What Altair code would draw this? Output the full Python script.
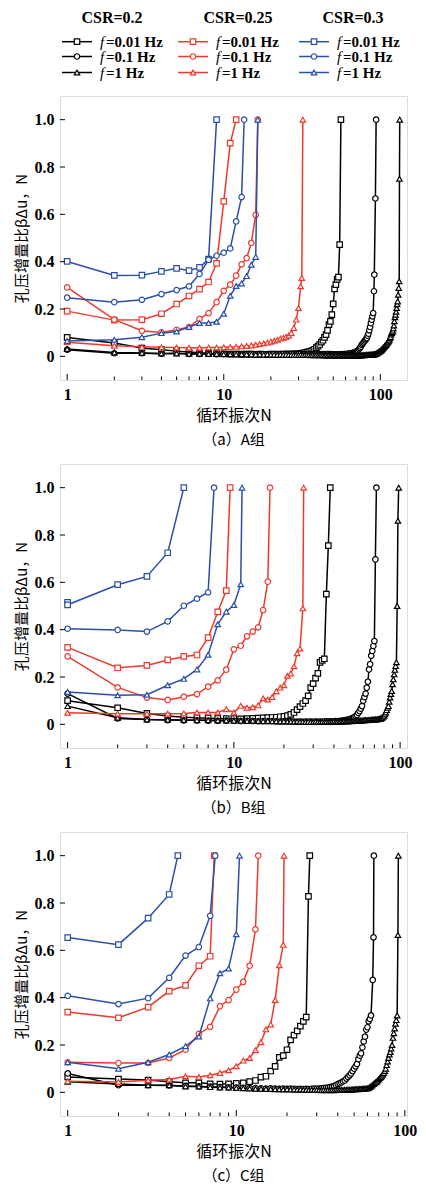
import altair as alt
import pandas as pd

# ---------------- categories / styles ----------------
CSR = ["0.2", "0.25", "0.3"]
CSR_LABELS = ["CSR=0.2", "CSR=0.25", "CSR=0.3"]
FREQ = ["0.01", "0.1", "1"]
FREQ_LABELS = ["=0.01 Hz", "=0.1 Hz", "=1 Hz"]
COLORS = ["#000000", "#ee3a2e", "#2b4fa8"]
SHAPES = ["square", "circle", "triangle-up"]
CAPTIONS = ["（a）A组", "（b）B组", "（c）C组"]
X_MAX = [148, 110, 103]
X_MAJOR = [1, 10, 100]
X_MINOR = [2, 3, 4, 5, 6, 7, 8, 9, 20, 30, 40, 50, 60, 70, 80, 90]
Y_TICKS = [0, 0.2, 0.4, 0.6, 0.8, 1.0]

# ---------------- panel A ----------------
A_02_001_N = list(range(1, 57))
A_02_001_B = [0.080, 0.056, 0.035, 0.028, 0.022, 0.018, 0.015, 0.013, 0.012, 0.011,
              0.010, 0.010, 0.009, 0.010, 0.009, 0.008, 0.009, 0.008, 0.008, 0.009,
              0.008, 0.009, 0.008, 0.009, 0.010, 0.009, 0.010, 0.011, 0.010, 0.012,
              0.013, 0.014, 0.016, 0.018, 0.020, 0.022, 0.025, 0.030, 0.037, 0.043,
              0.050, 0.060, 0.068, 0.080, 0.092, 0.110, 0.134, 0.148, 0.176, 0.222,
              0.285, 0.303, 0.325, 0.335, 0.472, 1.000]
A_02_01_N = list(range(1, 92)) + [91.5, 93, 94]
A_02_01_B = [0.028, 0.013, 0.013, 0.011, 0.013, 0.010, 0.010, 0.011, 0.009, 0.010,
             0.009, 0.010, 0.008, 0.009, 0.010, 0.008, 0.009, 0.010, 0.008, 0.009,
             0.010, 0.008, 0.009, 0.010, 0.009, 0.008, 0.010, 0.009, 0.008, 0.009,
             0.010, 0.008, 0.009, 0.008, 0.010, 0.009, 0.008, 0.009, 0.010, 0.008,
             0.009, 0.008, 0.010, 0.009, 0.008, 0.009, 0.010, 0.008, 0.009, 0.008,
             0.007, 0.008, 0.007, 0.008, 0.007, 0.008, 0.009, 0.008, 0.009, 0.010,
             0.010, 0.011, 0.012, 0.012, 0.013, 0.014, 0.015, 0.016, 0.018, 0.020,
             0.021, 0.025, 0.030, 0.035, 0.041, 0.048, 0.053, 0.058, 0.063, 0.068,
             0.073, 0.077, 0.087, 0.096, 0.110, 0.124, 0.140, 0.155, 0.169, 0.183,
             0.275, 0.345, 0.667, 1.000]
A_02_1_N = list(range(1, 133)) + [132.5, 133]
A_02_1_B = [0.031, 0.016, 0.014, 0.012, 0.012, 0.011, 0.011, 0.010, 0.010, 0.009,
            0.009, 0.008, 0.009, 0.008, 0.008, 0.007, 0.008, 0.007, 0.008, 0.007,
            0.007, 0.006, 0.007, 0.006, 0.007, 0.006, 0.006, 0.005, 0.006, 0.005,
            0.006, 0.005, 0.005, 0.006, 0.005, 0.004, 0.005, 0.004, 0.005, 0.004,
            0.004, 0.005, 0.004, 0.003, 0.004, 0.003, 0.004, 0.003, 0.004, 0.003,
            0.003, 0.004, 0.003, 0.002, 0.003, 0.002, 0.003, 0.002, 0.003, 0.002,
            0.003, 0.002, 0.003, 0.002, 0.003, 0.002, 0.003, 0.002, 0.003, 0.003,
            0.003, 0.004, 0.003, 0.004, 0.003, 0.004, 0.004, 0.005, 0.004, 0.005,
            0.005, 0.006, 0.005, 0.006, 0.006, 0.007, 0.006, 0.007, 0.007, 0.008,
            0.008, 0.009, 0.010, 0.011, 0.013, 0.015, 0.017, 0.019, 0.021, 0.023,
            0.025, 0.028, 0.031, 0.035, 0.038, 0.041, 0.044, 0.047, 0.050, 0.054,
            0.058, 0.062, 0.066, 0.070, 0.076, 0.082, 0.092, 0.098, 0.103, 0.108,
            0.118, 0.130, 0.148, 0.165, 0.176, 0.188, 0.204, 0.220, 0.232, 0.260,
            0.289, 0.317, 0.750, 1.000]
A_025_001_N = list(range(1, 13))
A_025_001_B = [0.191, 0.153, 0.155, 0.180, 0.221, 0.255, 0.284, 0.314, 0.393, 0.655, 0.901, 1.000]
A_025_01_N = list(range(1, 17)) + [16.5]
A_025_01_B = [0.291, 0.155, 0.108, 0.101, 0.112, 0.124, 0.158, 0.183, 0.229, 0.277,
              0.303, 0.341, 0.389, 0.415, 0.479, 0.598, 1.000]
A_025_1_N = list(range(1, 32)) + [31.5, 32]
A_025_1_B = [0.060, 0.045, 0.040, 0.038, 0.037, 0.036, 0.036, 0.037, 0.037, 0.038,
             0.039, 0.040, 0.042, 0.044, 0.046, 0.049, 0.052, 0.055, 0.058, 0.062,
             0.066, 0.070, 0.075, 0.078, 0.082, 0.088, 0.098, 0.120, 0.155, 0.204,
             0.296, 0.331, 1.000]
A_03_001_N = list(range(1, 10))
A_03_001_B = [0.401, 0.342, 0.343, 0.359, 0.372, 0.362, 0.376, 0.411, 1.000]
A_03_01_N = list(range(1, 14)) + [13.5]
A_03_01_B = [0.248, 0.229, 0.239, 0.263, 0.280, 0.296, 0.348, 0.408, 0.425, 0.438,
             0.456, 0.570, 0.673, 1.000]
A_03_1_N = list(range(1, 17)) + [16.5]
A_03_1_B = [0.065, 0.070, 0.081, 0.098, 0.105, 0.124, 0.141, 0.141, 0.146, 0.180,
            0.256, 0.297, 0.308, 0.339, 0.387, 0.420, 1.000]

# ---------------- panel B ----------------
B_02_001_N = list(range(1, 39))
B_02_001_B = [0.100, 0.070, 0.046, 0.035, 0.030, 0.028, 0.026, 0.025, 0.024, 0.024,
              0.023, 0.024, 0.025, 0.026, 0.027, 0.028, 0.029, 0.030, 0.032, 0.034,
              0.037, 0.042, 0.050, 0.062, 0.075, 0.088, 0.100, 0.120, 0.155, 0.172,
              0.195, 0.215, 0.262, 0.270, 0.277, 0.550, 0.755, 1.000]
B_02_01_N = list(range(1, 73))
B_02_01_B = [0.130, 0.025, 0.020, 0.018, 0.017, 0.017, 0.016, 0.015, 0.016, 0.015,
             0.014, 0.015, 0.014, 0.013, 0.014, 0.013, 0.014, 0.013, 0.012, 0.013,
             0.012, 0.013, 0.012, 0.011, 0.012, 0.011, 0.012, 0.011, 0.012, 0.011,
             0.012, 0.011, 0.012, 0.011, 0.012, 0.013, 0.012, 0.013, 0.012, 0.013,
             0.014, 0.013, 0.014, 0.015, 0.016, 0.017, 0.018, 0.019, 0.020, 0.022,
             0.024, 0.027, 0.030, 0.035, 0.040, 0.048, 0.056, 0.066, 0.077, 0.100,
             0.115, 0.130, 0.155, 0.180, 0.232, 0.254, 0.290, 0.310, 0.331, 0.352,
             0.697, 1.000]
B_02_1_N = list(range(1, 99))
B_02_1_B = [0.077, 0.028, 0.020, 0.019, 0.018, 0.017, 0.017, 0.016, 0.016, 0.015,
            0.015, 0.014, 0.015, 0.014, 0.013, 0.014, 0.013, 0.013, 0.012, 0.013,
            0.012, 0.012, 0.011, 0.012, 0.011, 0.011, 0.010, 0.011, 0.010, 0.010,
            0.011, 0.010, 0.010, 0.011, 0.010, 0.011, 0.010, 0.011, 0.011, 0.012,
            0.011, 0.012, 0.011, 0.012, 0.012, 0.013, 0.012, 0.013, 0.013, 0.014,
            0.013, 0.014, 0.014, 0.015, 0.014, 0.015, 0.015, 0.016, 0.016, 0.017,
            0.017, 0.018, 0.017, 0.018, 0.019, 0.018, 0.019, 0.020, 0.019, 0.020,
            0.021, 0.020, 0.021, 0.022, 0.023, 0.024, 0.026, 0.028, 0.032, 0.036,
            0.042, 0.050, 0.060, 0.070, 0.077, 0.095, 0.113, 0.128, 0.141, 0.169,
            0.190, 0.211, 0.230, 0.246, 0.262, 0.500, 0.860, 1.000]
B_025_001_N = list(range(1, 10)) + [9.5]
B_025_001_B = [0.325, 0.239, 0.249, 0.272, 0.287, 0.293, 0.366, 0.475, 0.565, 1.000]
B_025_01_N = list(range(1, 17)) + [16.5]
B_025_01_B = [0.287, 0.156, 0.113, 0.103, 0.117, 0.128, 0.159, 0.186, 0.231, 0.317,
              0.332, 0.372, 0.392, 0.410, 0.483, 0.603, 1.000]
B_025_1_N = list(range(1, 27)) + [26.3]
B_025_1_B = [0.049, 0.045, 0.045, 0.045, 0.046, 0.050, 0.050, 0.050, 0.064, 0.050,
             0.078, 0.070, 0.072, 0.080, 0.110, 0.105, 0.115, 0.140, 0.155, 0.165,
             0.205, 0.215, 0.245, 0.300, 0.320, 0.490, 1.000]
B_03_001_N = [1, 1, 2, 3, 4, 5]
B_03_001_B = [0.515, 0.505, 0.590, 0.625, 0.725, 1.000]
B_03_01_N = list(range(1, 8)) + [7.6]
B_03_01_B = [0.404, 0.399, 0.392, 0.435, 0.501, 0.531, 0.558, 1.000]
B_03_1_N = list(range(1, 12)) + [11.2]
B_03_1_B = [0.137, 0.123, 0.125, 0.165, 0.192, 0.232, 0.294, 0.423, 0.476, 0.504, 0.592, 1.000]

# ---------------- panel C ----------------
C_02_001_N = list(range(1, 27)) + [26.8, 27.3]
C_02_001_B = [0.065, 0.056, 0.052, 0.045, 0.040, 0.040, 0.036, 0.035, 0.036, 0.038,
              0.040, 0.045, 0.050, 0.064, 0.068, 0.090, 0.110, 0.148, 0.155, 0.180,
              0.222, 0.242, 0.260, 0.280, 0.300, 0.318, 0.828, 1.000]
C_02_01_N = list(range(1, 64)) + [64.5, 65.2, 65.5]
C_02_01_B = [0.080, 0.030, 0.030, 0.029, 0.027, 0.025, 0.024, 0.022, 0.021, 0.020,
             0.019, 0.018, 0.018, 0.017, 0.016, 0.017, 0.016, 0.015, 0.016, 0.015,
             0.016, 0.015, 0.014, 0.015, 0.014, 0.015, 0.014, 0.015, 0.016, 0.015,
             0.016, 0.017, 0.018, 0.019, 0.020, 0.022, 0.024, 0.026, 0.030, 0.035,
             0.038, 0.042, 0.046, 0.050, 0.058, 0.065, 0.072, 0.080, 0.090, 0.100,
             0.110, 0.120, 0.140, 0.155, 0.165, 0.190, 0.215, 0.235, 0.265, 0.275,
             0.300, 0.310, 0.325, 0.475, 0.655, 1.000]
C_02_1_N = list(range(1, 91)) + [91, 91.5]
C_02_1_B = [0.045, 0.035, 0.030, 0.030, 0.025, 0.025, 0.022, 0.020, 0.020, 0.018,
            0.017, 0.016, 0.015, 0.015, 0.014, 0.014, 0.013, 0.013, 0.012, 0.013,
            0.012, 0.012, 0.011, 0.012, 0.011, 0.011, 0.010, 0.011, 0.010, 0.010,
            0.010, 0.009, 0.010, 0.009, 0.010, 0.009, 0.010, 0.009, 0.010, 0.010,
            0.010, 0.011, 0.010, 0.011, 0.011, 0.012, 0.011, 0.012, 0.012, 0.013,
            0.013, 0.014, 0.013, 0.014, 0.015, 0.014, 0.015, 0.016, 0.016, 0.017,
            0.018, 0.022, 0.026, 0.030, 0.035, 0.038, 0.042, 0.045, 0.050, 0.055,
            0.060, 0.065, 0.070, 0.075, 0.082, 0.090, 0.100, 0.115, 0.130, 0.145,
            0.160, 0.170, 0.185, 0.200, 0.230, 0.250, 0.270, 0.290, 0.305, 0.325,
            0.665, 1.000]
C_025_001_N = list(range(1, 8)) + [7.4]
C_025_001_B = [0.339, 0.315, 0.360, 0.428, 0.452, 0.535, 0.575, 1.000]
C_025_01_N = list(range(1, 14)) + [13.5]
C_025_01_B = [0.127, 0.124, 0.124, 0.145, 0.180, 0.247, 0.277, 0.364, 0.390, 0.434,
              0.467, 0.535, 0.689, 1.000]
C_025_1_N = list(range(1, 20)) + [19.2]
C_025_1_B = [0.047, 0.044, 0.051, 0.054, 0.068, 0.065, 0.072, 0.082, 0.093, 0.110,
             0.134, 0.145, 0.178, 0.212, 0.266, 0.287, 0.390, 0.537, 0.623, 1.000]
C_03_001_N = [1, 2, 3, 4, 4.5]
C_03_001_B = [0.654, 0.624, 0.736, 0.836, 1.000]
C_03_01_N = list(range(1, 8)) + [7.5]
C_03_01_B = [0.408, 0.373, 0.398, 0.484, 0.578, 0.614, 0.746, 1.000]
C_03_1_N = list(range(1, 11)) + [10.45]
C_03_1_B = [0.127, 0.100, 0.127, 0.160, 0.195, 0.236, 0.397, 0.503, 0.523, 0.668, 1.000]

PANELS = [
    [("0.2", "0.01", A_02_001_N, A_02_001_B), ("0.2", "0.1", A_02_01_N, A_02_01_B),
     ("0.2", "1", A_02_1_N, A_02_1_B), ("0.25", "0.01", A_025_001_N, A_025_001_B),
     ("0.25", "0.1", A_025_01_N, A_025_01_B), ("0.25", "1", A_025_1_N, A_025_1_B),
     ("0.3", "0.01", A_03_001_N, A_03_001_B), ("0.3", "0.1", A_03_01_N, A_03_01_B),
     ("0.3", "1", A_03_1_N, A_03_1_B)],
    [("0.2", "0.01", B_02_001_N, B_02_001_B), ("0.2", "0.1", B_02_01_N, B_02_01_B),
     ("0.2", "1", B_02_1_N, B_02_1_B), ("0.25", "0.01", B_025_001_N, B_025_001_B),
     ("0.25", "0.1", B_025_01_N, B_025_01_B), ("0.25", "1", B_025_1_N, B_025_1_B),
     ("0.3", "0.01", B_03_001_N, B_03_001_B), ("0.3", "0.1", B_03_01_N, B_03_01_B),
     ("0.3", "1", B_03_1_N, B_03_1_B)],
    [("0.2", "0.01", C_02_001_N, C_02_001_B), ("0.2", "0.1", C_02_01_N, C_02_01_B),
     ("0.2", "1", C_02_1_N, C_02_1_B), ("0.25", "0.01", C_025_001_N, C_025_001_B),
     ("0.25", "0.1", C_025_01_N, C_025_01_B), ("0.25", "1", C_025_1_N, C_025_1_B),
     ("0.3", "0.01", C_03_001_N, C_03_001_B), ("0.3", "0.1", C_03_01_N, C_03_01_B),
     ("0.3", "1", C_03_1_N, C_03_1_B)],
]

# ---------------- styling ----------------
SERIF = "Liberation Serif"
CJK = "Noto Sans CJK SC"
PW, PH = 347, 284
LW, LH = 347, 71
LEG_COL_X = [2, 118, 239]
LEG_LINE = 30
LEG_TEXT_GAP = 38
LEG_HEAD_X = [52, 178, 293]
LEG_HEAD_Y = 9
LEG_ROW_Y = [32.7, 47.5, 63.5]
MARK_SIZE = 30
SPACING = 14


def build_panel(series, xmax, caption):
    rows = []
    for csr, freq, ns, bs in series:
        for i, (n, b) in enumerate(zip(ns, bs)):
            rows.append({"csr": csr, "freq": freq, "N": n, "B": b, "idx": i})
    df = pd.DataFrame(rows)

    xs = alt.X("N:Q",
               scale=alt.Scale(type="log", domain=[0.9, xmax], nice=False),
               axis=alt.Axis(values=X_MAJOR, format="d", title="循环振次N",
                             ticks=False, domain=False, grid=False,
                             labelFont=SERIF, labelFontWeight="bold", labelFontSize=16,
                             labelPadding=6, labelColor="black", labelFlush=False,
                             titleFont=CJK, titleFontSize=16, titleFontWeight="normal",
                             titleColor="black", titlePadding=5))
    ys = alt.Y("B:Q",
               scale=alt.Scale(domain=[-0.1, 1.1], nice=False, zero=False),
               axis=alt.Axis(values=Y_TICKS,
                             labelExpr="datum.value == 0 ? '0' : format(datum.value, '.1f')",
                             title="孔压增量比βΔu，N", ticks=False, domain=False, grid=False,
                             labelFont=SERIF, labelFontWeight="bold", labelFontSize=16,
                             labelPadding=6, labelColor="black",
                             titleFont=CJK, titleFontSize=15, titleFontWeight="normal",
                             titleColor="black", titlePadding=5))

    layers = []
    for ci, csr in enumerate(CSR):
        sub = alt.Chart(df).transform_filter(alt.datum.csr == csr)
        layers.append(
            sub.mark_line(color=COLORS[ci], strokeWidth=1.5, clip=True)
            .encode(x=xs, y=ys, detail="freq:N", order="idx:Q"))
        layers.append(
            sub.mark_point(filled=True, fill="white", stroke=COLORS[ci], strokeWidth=1.2,
                           size=MARK_SIZE, opacity=1, clip=True)
            .encode(x=xs, y=ys,
                    shape=alt.Shape("freq:N", scale=alt.Scale(domain=FREQ, range=SHAPES),
                                    legend=None)))

    maj = pd.DataFrame({"N": [v for v in X_MAJOR if v <= xmax]})
    mnr = pd.DataFrame({"N": [v for v in X_MINOR if v <= xmax]})
    yt = pd.DataFrame({"B": Y_TICKS})
    layers.append(alt.Chart(maj).mark_rule(color="black", strokeWidth=1)
                  .encode(x=xs, y=alt.value(PH), y2=alt.value(PH - 6)))
    layers.append(alt.Chart(mnr).mark_rule(color="black", strokeWidth=1)
                  .encode(x=xs, y=alt.value(PH), y2=alt.value(PH - 3.5)))
    layers.append(alt.Chart(yt).mark_rule(color="black", strokeWidth=1)
                  .encode(y=ys, x=alt.value(0), x2=alt.value(5)))

    return alt.layer(*layers).properties(
        width=PW, height=PH,
        title=alt.TitleParams(caption, orient="bottom", anchor="middle", font=CJK,
                              fontSize=15, fontWeight="normal", color="black", offset=10))


# ---------------- legend ----------------
leg_rows = []
for ci, csr in enumerate(CSR):
    for ri, freq in enumerate(FREQ):
        x0 = LEG_COL_X[ci]
        leg_rows.append({"csr": csr, "freq": freq, "x0": x0, "x1": x0 + LEG_LINE,
                         "xm": x0 + LEG_LINE / 2, "xt": x0 + LEG_TEXT_GAP,
                         "y": LEG_ROW_Y[ri], "label": FREQ_LABELS[ri]})
leg_df = pd.DataFrame(leg_rows)
head_df = pd.DataFrame({"x": LEG_HEAD_X, "y": [LEG_HEAD_Y] * 3, "label": CSR_LABELS})

lx = alt.Scale(domain=[0, LW], nice=False, zero=False)
ly = alt.Scale(domain=[LH, 0], nice=False, zero=False)
col_scale = alt.Scale(domain=CSR, range=COLORS)

leg_base = alt.Chart(leg_df)
leg_lines = leg_base.mark_rule(strokeWidth=1.5).encode(
    x=alt.X("x0:Q", scale=lx, axis=None), x2="x1:Q",
    y=alt.Y("y:Q", scale=ly, axis=None),
    color=alt.Color("csr:N", scale=col_scale, legend=None))
leg_pts = leg_base.mark_point(filled=True, fill="white", strokeWidth=1.2, size=MARK_SIZE,
                              opacity=1).encode(
    x=alt.X("xm:Q", scale=lx, axis=None),
    y=alt.Y("y:Q", scale=ly, axis=None),
    stroke=alt.Stroke("csr:N", scale=col_scale, legend=None),
    shape=alt.Shape("freq:N", scale=alt.Scale(domain=FREQ, range=SHAPES), legend=None))
leg_f = leg_base.mark_text(align="left", baseline="middle", font=SERIF, fontStyle="italic",
                           fontSize=15, color="black").encode(
    x=alt.X("xt:Q", scale=lx, axis=None),
    y=alt.Y("y:Q", scale=ly, axis=None),
    text=alt.value("f"))
leg_txt = leg_base.mark_text(align="left", baseline="middle", font=SERIF, fontWeight="bold",
                             fontSize=15, color="black", dx=6).encode(
    x=alt.X("xt:Q", scale=lx, axis=None),
    y=alt.Y("y:Q", scale=ly, axis=None),
    text="label:N")
leg_head = alt.Chart(head_df).mark_text(align="center", baseline="middle", font=SERIF,
                                        fontWeight="bold", fontSize=16, color="black").encode(
    x=alt.X("x:Q", scale=lx, axis=None),
    y=alt.Y("y:Q", scale=ly, axis=None),
    text="label:N")
legend = alt.layer(leg_lines, leg_pts, leg_f, leg_txt, leg_head).properties(
    width=LW, height=LH, view=alt.ViewBackground(stroke="transparent"))

panels = [build_panel(PANELS[i], X_MAX[i], CAPTIONS[i]) for i in range(3)]

chart = alt.vconcat(legend, *panels, spacing=SPACING,
                    padding={"left": 5, "top": 0, "right": 0, "bottom": 0}).configure_view(
    stroke="black", strokeWidth=1.2).configure(background="white")

chart.save("out.html", embed_options={"renderer": "svg", "actions": False})
